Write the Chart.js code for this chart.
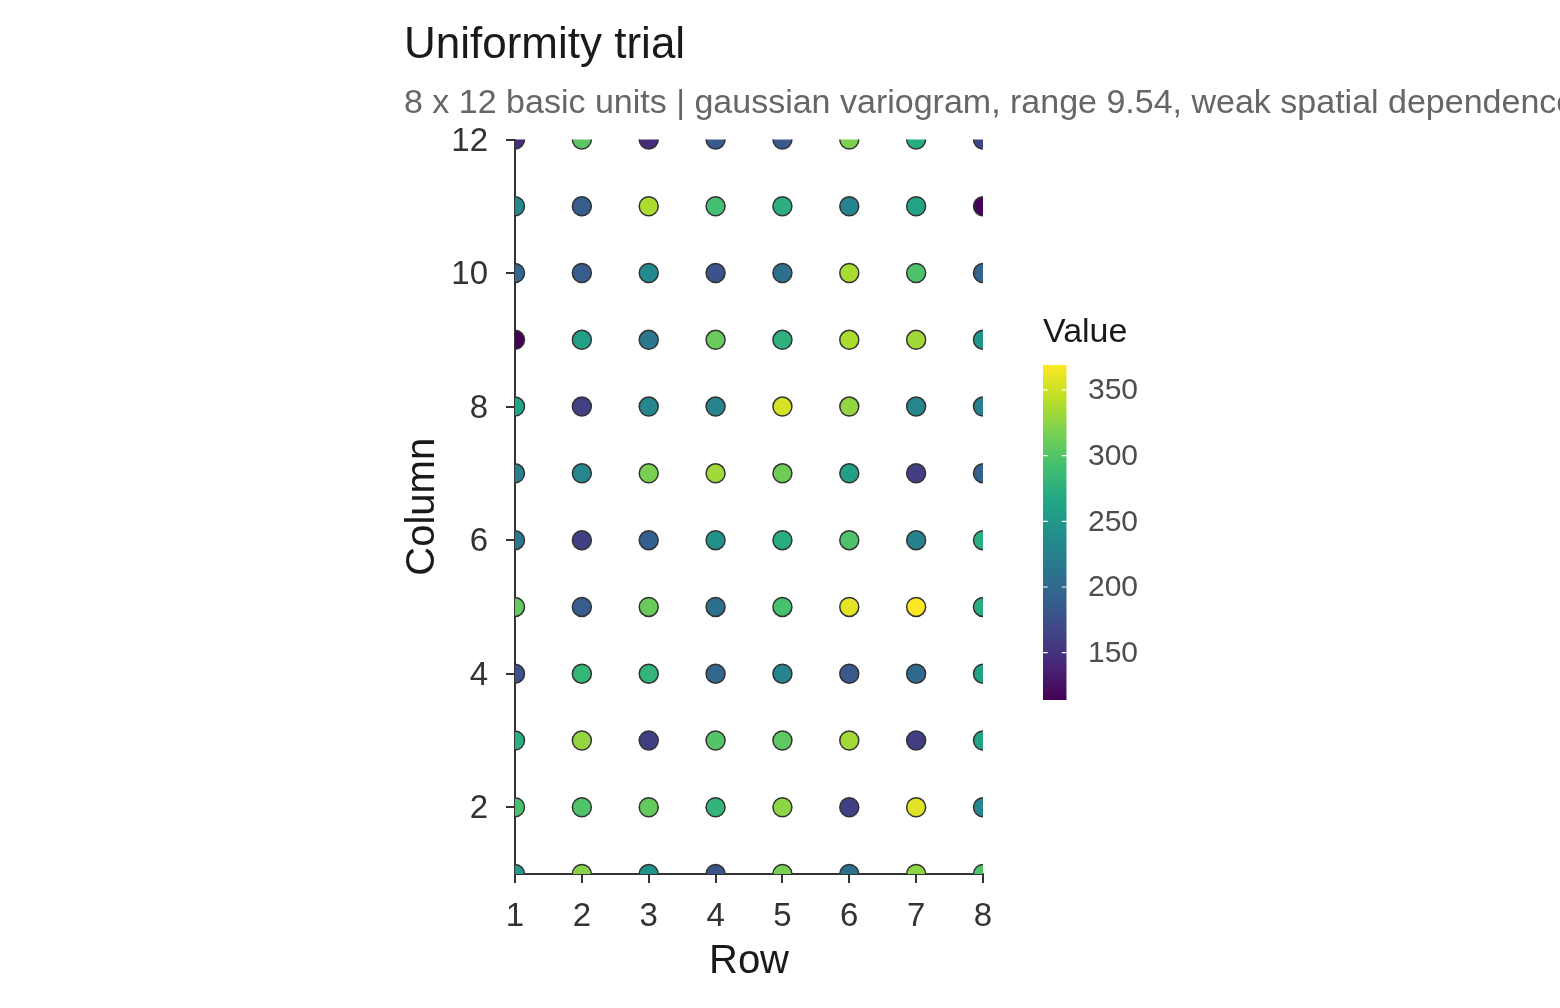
<!DOCTYPE html>
<html>
<head>
<meta charset="utf-8">
<script src="https://cdn.jsdelivr.net/npm/chart.js@4.4.1/dist/chart.umd.min.js"></script>
<style>
html, body { margin: 0; padding: 0; background: #ffffff; }
canvas { display: block; }
</style>
</head>
<body>
<canvas id="c" width="1560" height="1008"></canvas>
<script>
// ---- data ----
const rows = [1, 2, 3, 4, 5, 6, 7, 8];            // x positions (Row)
const columns = [1, 2, 3, 4, 5, 6, 7, 8, 9, 10, 11, 12]; // y positions (Column)
const xTickLabels = [1, 2, 3, 4, 5, 6, 7, 8];
const yTickLabels = [2, 4, 6, 8, 10, 12];
const legendTicks = [150, 200, 250, 300, 350];
const valueMin = 114;
const valueMax = 369;
// one array per column, values for rows 1..8
const column01 = [252, 323, 244, 178, 318, 208, 326, 297];
const column02 = [295, 298, 308, 280, 325, 160, 358, 231];
const column03 = [275, 328, 160, 300, 305, 334, 160, 262];
const column04 = [178, 282, 280, 198, 229, 183, 200, 262];
const column05 = [308, 188, 310, 208, 295, 359, 369, 272];
const column06 = [216, 160, 190, 244, 272, 297, 226, 275];
const column07 = [224, 231, 318, 333, 313, 259, 160, 193];
const column08 = [264, 162, 231, 229, 354, 328, 231, 226];
const column09 = [114, 259, 216, 310, 277, 338, 333, 246];
const column10 = [196, 188, 234, 180, 208, 336, 297, 196];
const column11 = [234, 188, 338, 292, 275, 229, 262, 116];
const column12 = [147, 303, 145, 185, 185, 318, 270, 165];
const columnValues = [column01, column02, column03, column04, column05, column06,
                      column07, column08, column09, column10, column11, column12];

const title = 'Uniformity trial';
const subtitle = '8 x 12 basic units | gaussian variogram, range 9.54, weak spatial dependence';
const xTitle = 'Row';
const yTitle = 'Column';
const legendTitle = 'Value';

// ---- viridis colour map ----
const viridisStops = ['#440154', '#482576', '#414487', '#35608D', '#2A788E', '#21908C',
                      '#22A884', '#43BF71', '#7AD151', '#BBDF27', '#FDE725'];
function hexToRgb(h) { return [parseInt(h.substr(1,2),16), parseInt(h.substr(3,2),16), parseInt(h.substr(5,2),16)]; }
function viridis(v) {
  let t = (v - valueMin) / (valueMax - valueMin);
  t = Math.max(0, Math.min(1, t));
  const n = viridisStops.length - 1;
  const i = Math.min(n - 1, Math.floor(t * n));
  const f = t * n - i;
  const a = hexToRgb(viridisStops[i]), b = hexToRgb(viridisStops[i + 1]);
  const c = a.map((x, k) => Math.round(x + (b[k] - x) * f));
  return 'rgb(' + c.join(',') + ')';
}

const points = [];
columnValues.forEach((vals, ci) => {
  vals.forEach((v, ri) => points.push({ x: rows[ri], y: columns[ci], v: v }));
});

const FONT = '"Liberation Sans", Arial, Helvetica, sans-serif';

const decor = {
  id: 'decor',
  afterDraw(chart) {
    const ctx = chart.ctx;
    const area = chart.chartArea;
    ctx.save();
    // Title & subtitle
    ctx.textAlign = 'left';
    ctx.textBaseline = 'alphabetic';
    ctx.fillStyle = '#1a1a1a';
    ctx.font = '44px ' + FONT;
    ctx.fillText(title, 404, 58);
    ctx.fillStyle = '#666666';
    ctx.font = '34px ' + FONT;
    ctx.fillText(subtitle, 404, 113);
    // Axis titles
    ctx.fillStyle = '#1a1a1a';
    ctx.font = '40px ' + FONT;
    ctx.textAlign = 'center';
    ctx.fillText(xTitle, (area.left + area.right) / 2, 973);
    ctx.save();
    ctx.translate(434, (area.top + area.bottom) / 2);
    ctx.rotate(-Math.PI / 2);
    ctx.fillText(yTitle, 0, 0);
    ctx.restore();
    // Legend
    const barX = 1043, barW = 23.5, barTop = 365, barBottom = 700;
    ctx.textAlign = 'left';
    ctx.fillStyle = '#1a1a1a';
    ctx.font = '34px ' + FONT;
    ctx.fillText(legendTitle, 1043, 342);
    const grad = ctx.createLinearGradient(0, barBottom, 0, barTop);
    viridisStops.forEach((c, i) => grad.addColorStop(i / (viridisStops.length - 1), c));
    ctx.fillStyle = grad;
    ctx.fillRect(barX, barTop, barW, barBottom - barTop);
    const valToY = v => barBottom - (v - valueMin) / (valueMax - valueMin) * (barBottom - barTop);
    ctx.strokeStyle = '#ffffff';
    ctx.lineWidth = 1.2;
    ctx.font = '30px ' + FONT;
    ctx.fillStyle = '#4d4d4d';
    ctx.textBaseline = 'middle';
    legendTicks.forEach(t => {
      const y = valToY(t);
      ctx.beginPath();
      ctx.moveTo(barX, y); ctx.lineTo(barX + barW * 0.2, y);
      ctx.moveTo(barX + barW * 0.8, y); ctx.lineTo(barX + barW, y);
      ctx.stroke();
      ctx.fillText(String(t), 1088, y + 1);
    });
    ctx.restore();
  }
};

const axisCommon = {
  type: 'linear',
  z: 1,
  grid: { display: true, drawOnChartArea: false, drawTicks: true, tickLength: 9, color: '#333333', lineWidth: 2 },
  border: { display: true, color: '#333333', width: 2 }
};

new Chart(document.getElementById('c').getContext('2d'), {
  type: 'scatter',
  data: {
    datasets: [{
      data: points,
      pointRadius: 9.5,
      pointHoverRadius: 9.5,
      pointBorderWidth: 1.5,
      pointBorderColor: '#333333',
      pointBackgroundColor: points.map(p => viridis(p.v)),
      clip: 0
    }]
  },
  options: {
    responsive: false,
    animation: false,
    devicePixelRatio: 1,
    events: [],
    layout: { padding: { left: 300, right: 577, top: 139.5, bottom: 34 } },
    plugins: { legend: { display: false }, tooltip: { enabled: false }, title: { display: false } },
    scales: {
      x: Object.assign({}, axisCommon, {
        min: rows[0], max: rows[rows.length - 1],
        afterBuildTicks: s => { s.ticks = xTickLabels.map(v => ({ value: v })); },
        afterFit: s => { s.height = 100; },
        ticks: { color: '#333333', font: { family: FONT, size: 33 }, padding: 14, maxRotation: 0, autoSkip: false }
      }),
      y: Object.assign({}, axisCommon, {
        min: columns[0], max: columns[columns.length - 1],
        afterBuildTicks: s => { s.ticks = yTickLabels.map(v => ({ value: v })); },
        afterFit: s => { s.width = 215; },
        ticks: { color: '#333333', font: { family: FONT, size: 33 }, padding: 18, labelOffset: 2, autoSkip: false }
      })
    }
  },
  plugins: [decor]
});
</script>
</body>
</html>
